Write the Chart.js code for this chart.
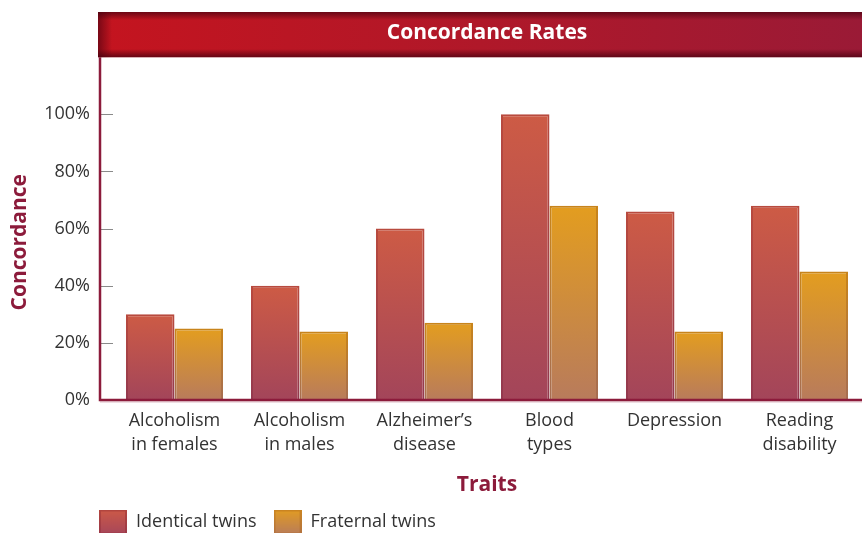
<!DOCTYPE html>
<html>
<head>
<meta charset="utf-8">
<script src="https://cdn.jsdelivr.net/npm/chart.js@4.4.1/dist/chart.umd.min.js"></script>
<style>
  html, body { margin: 0; padding: 0; background: #fff; }
  #wrap { width: 862px; height: 533px; }
</style>
</head>
<body>
<div id="wrap"><canvas id="myChart" width="862" height="533"></canvas></div>
<script>
const traits = [
    ['Alcoholism', 'in females'],
    ['Alcoholism', 'in males'],
    ['Alzheimer\u2019s', 'disease'],
    ['Blood', 'types'],
    ['Depression'],
    ['Reading', 'disability']
];
const identicalTwins = [30, 40, 60, 100, 66, 68];
const fraternalTwins = [25, 24, 27, 68, 24, 45];
const yTicks = [0, 20, 40, 60, 80, 100];

const axisRed = '#8c1b3b';
const textGray = '#333333';

// vertical gradient from the top of each bar down to the baseline
function barFill(topColor, bottomColor) {
    return function(context) {
        const chart = context.chart;
        if (!chart.chartArea || context.type !== 'data') return topColor;
        const y = chart.scales.y;
        const g = chart.ctx.createLinearGradient(0, y.getPixelForValue(context.raw), 0, y.getPixelForValue(0));
        g.addColorStop(0, topColor);
        g.addColorStop(1, bottomColor);
        return g;
    };
}

function swatch(topColor, bottomColor, edge) {
    const c = document.createElement('canvas');
    c.width = 28; c.height = 25;
    const x = c.getContext('2d');
    const g = x.createLinearGradient(0, 0, 0, 25);
    g.addColorStop(0, topColor);
    g.addColorStop(1, bottomColor);
    x.fillStyle = g;
    x.fillRect(0, 0, 28, 25);
    x.strokeStyle = edge;
    x.lineWidth = 2;
    x.strokeRect(1, 1, 26, 23);
    return c;
}
const swatches = [
    swatch('#cd5a47', '#a6465a', 'rgba(140,40,50,0.4)'),
    swatch('#e29c22', '#b97c5a', 'rgba(170,100,30,0.4)')
];

const chartDecor = {
    id: 'chartDecor',
    afterLayout(chart) {
        chart.legend.left = 82;
        chart.legend.top += 8;
    },
    beforeDraw(chart) {
        const ctx = chart.ctx;
        const area = chart.chartArea;
        const x0 = 98, y0 = 12, w = 862 - 98, h = area.top - 12;
        ctx.save();
        const g = ctx.createLinearGradient(x0, 0, x0 + w, 0);
        g.addColorStop(0, '#c4141f');
        g.addColorStop(0.5, '#b01829');
        g.addColorStop(1, '#9a1a36');
        ctx.fillStyle = g;
        ctx.fillRect(x0, y0, w, h);
        const v = ctx.createLinearGradient(0, y0, 0, y0 + h);
        v.addColorStop(0, 'rgba(70,0,15,0.7)');
        v.addColorStop(0.18, 'rgba(70,0,15,0)');
        v.addColorStop(0.82, 'rgba(70,0,15,0)');
        v.addColorStop(1, 'rgba(70,0,15,0.75)');
        ctx.fillStyle = v;
        ctx.fillRect(x0, y0, w, h);
        const hl = ctx.createLinearGradient(x0, 0, x0 + 14, 0);
        hl.addColorStop(0, 'rgba(70,0,15,0.6)');
        hl.addColorStop(1, 'rgba(70,0,15,0)');
        ctx.fillStyle = hl;
        ctx.fillRect(x0, y0, 14, h);
        ctx.restore();
    },
    afterDatasetsDraw(chart) {
        const ctx = chart.ctx;
        const area = chart.chartArea;
        const y = chart.scales.y;
        const axisX = 100;
        ctx.save();
        ctx.strokeStyle = '#8a8a8a';
        ctx.lineWidth = 1;
        yTicks.forEach(function(t) {
            if (t === 0) return;
            const py = Math.round(y.getPixelForValue(t)) + 0.5;
            ctx.beginPath();
            ctx.moveTo(axisX, py);
            ctx.lineTo(axisX + 13, py);
            ctx.stroke();
        });
        ctx.strokeStyle = axisRed;
        ctx.lineWidth = 2.5;
        ctx.beginPath();
        ctx.moveTo(axisX, area.top);
        ctx.lineTo(axisX, area.bottom);
        ctx.lineTo(area.right, area.bottom);
        ctx.stroke();
        ctx.strokeStyle = 'rgba(140,27,59,0.3)';
        ctx.lineWidth = 1;
        ctx.beginPath();
        ctx.moveTo(axisX, area.bottom + 2);
        ctx.lineTo(area.right, area.bottom + 2);
        ctx.stroke();
        ctx.restore();
    }
};

const ctx = document.getElementById('myChart').getContext('2d');

const myChart = new Chart(ctx, {
    type: 'bar',
    data: {
        labels: traits,
        datasets: [{
            label: 'Identical twins',
            data: identicalTwins,
            backgroundColor: barFill('#cd5b45', '#a3455a'),
            borderColor: barFill('#b84a3e', '#93394f'),
            borderWidth: 2,
            borderSkipped: 'bottom'
        }, {
            label: 'Fraternal twins',
            data: fraternalTwins,
            backgroundColor: barFill('#e39d1f', '#b87b5c'),
            borderColor: barFill('#c8841a', '#a66d52'),
            borderWidth: 2,
            borderSkipped: 'bottom'
        }]
    },
    options: {
        responsive: false,
        animation: false,
        layout: { padding: 0 },
        datasets: {
            bar: { categoryPercentage: 0.776, barPercentage: 1 }
        },
        scales: {
            x: {
                grid: { display: false, drawTicks: false },
                border: { display: false },
                ticks: {
                    color: textGray,
                    padding: 9,
                    maxRotation: 0,
                    autoSkip: false,
                    font: { family: 'Open Sans', size: 18, lineHeight: 1.333 }
                },
                title: {
                    display: true,
                    text: 'Traits',
                    color: axisRed,
                    padding: { top: 0, bottom: -10 },
                    font: { family: 'Open Sans', size: 21, weight: 'bold', lineHeight: 1.2 }
                },
                afterFit(scale) { scale.height = 88; }
            },
            y: {
                min: 0,
                max: 120,
                grid: { display: false, drawTicks: false },
                border: { display: false },
                ticks: {
                    stepSize: 20,
                    color: textGray,
                    padding: 22,
                    font: { family: 'Open Sans', size: 18 },
                    callback: function(v) { return v > 100 ? '' : v + '%'; }
                },
                title: {
                    display: true,
                    text: 'Concordance     ',
                    color: axisRed,
                    padding: { top: 7, bottom: 0 },
                    font: { family: 'Open Sans', size: 21, weight: 'bold', lineHeight: 1.2 }
                },
                afterFit(scale) { scale.width = 112; }
            }
        },
        plugins: {
            title: {
                display: true,
                text: 'Concordance Rates',
                color: '#ffffff',
                fullSize: false,
                padding: { top: 20, bottom: 12 },
                font: { family: 'Open Sans', size: 21, weight: 'bold', lineHeight: 1.2 }
            },
            legend: {
                position: 'bottom',
                align: 'start',
                labels: {
                    usePointStyle: true,
                    pointStyleWidth: 28,
                    padding: 17,
                    color: textGray,
                    font: { family: 'Open Sans', size: 18 },
                    generateLabels: function(chart) {
                        return chart.data.datasets.map(function(ds, i) {
                            return {
                                text: ds.label,
                                pointStyle: swatches[i],
                                fillStyle: 'transparent',
                                strokeStyle: 'transparent',
                                lineWidth: 0,
                                hidden: false,
                                datasetIndex: i,
                                fontColor: textGray
                            };
                        });
                    }
                }
            },
            tooltip: { enabled: false }
        }
    },
    plugins: [chartDecor]
});
</script>
</body>
</html>
